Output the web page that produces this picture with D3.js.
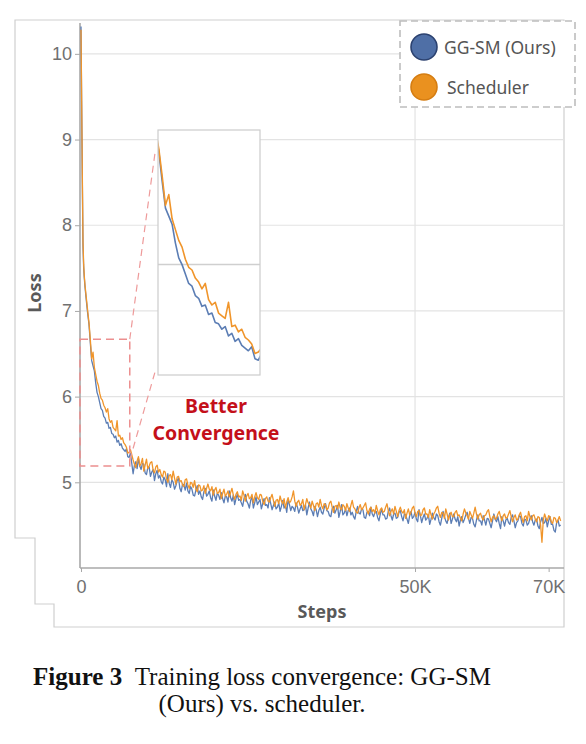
<!DOCTYPE html>
<html lang="en">
<head>
<meta charset="utf-8">
<title>Training loss convergence</title>
<script src="https://cdn.jsdelivr.net/npm/d3@7"></script>
<style>
  body { margin: 0; background: #fff; }
  svg { display: block; }
</style>
</head>
<body>
<svg width="586" height="744"></svg>
<script>
// ---- data ----
var seriesNames = ["GG-SM (Ours)", "Scheduler"];

// logged steps: dense at the start, then every 200 steps
var earlySteps = [0, 100, 200, 300, 400, 500,
  600, 800, 1000, 1200, 1400, 1600, 1800, 2000, 2200, 2400, 2600, 2800, 3000, 3200, 3400,
  3600, 3800, 4000, 4200, 4400, 4600, 4800, 5000, 5200, 5400, 5600, 5800, 6000, 6200,
  6400, 6600, 6800, 7000, 7200, 7400];
var lateSteps = d3.range(7800, 72000, 200);
var steps = earlySteps.concat(lateSteps);

var earlyOurs = [
  10.32, 9.40, 8.50, 7.75, 7.50, 7.38,
  7.28, 7.12, 6.97, 6.84, 6.62, 6.42, 6.36, 6.30, 6.16, 6.05, 6.00, 5.93, 5.86, 5.84, 5.77,
  5.75, 5.69, 5.70, 5.63, 5.64, 5.57, 5.56, 5.52, 5.54, 5.47, 5.49, 5.43, 5.45, 5.40,
  5.38, 5.36, 5.39, 5.30, 5.29, 5.34];

var lateOurs = [
  5.10, 5.20, 5.24, 5.16, 5.28, 5.19, 5.15, 5.22, 5.21, 5.11, 5.09, 5.17, 5.18, 5.07, 5.12, 5.15, 5.02, 5.10, 5.14, 5.05,
  5.08, 5.01, 4.98, 5.06, 5.03, 4.95, 5.10, 4.99, 4.94, 5.03, 5.00, 4.92, 4.96, 5.02, 5.05, 4.93, 4.89, 4.98, 4.97, 4.91,
  4.99, 4.90, 4.87, 4.95, 4.92, 4.85, 4.84, 4.91, 4.96, 4.86, 4.90, 4.83, 4.80, 4.89, 4.93, 4.84, 4.86, 4.90, 4.82, 4.78,
  4.91, 4.84, 4.79, 4.87, 4.85, 4.80, 4.88, 4.81, 4.76, 4.84, 4.83, 4.77, 4.90, 4.82, 4.78, 4.85, 4.74, 4.81, 4.86, 4.79,
  4.80, 4.76, 4.72, 4.81, 4.86, 4.78, 4.75, 4.70, 4.79, 4.83, 4.70, 4.76, 4.83, 4.74, 4.77, 4.80, 4.69, 4.75, 4.81, 4.73,
  4.74, 4.70, 4.82, 4.75, 4.68, 4.73, 4.77, 4.69, 4.71, 4.76, 4.66, 4.72, 4.79, 4.70, 4.73, 4.65, 4.80, 4.74, 4.67, 4.72,
  4.70, 4.66, 4.76, 4.71, 4.64, 4.69, 4.73, 4.67, 4.68, 4.74, 4.62, 4.70, 4.77, 4.69, 4.66, 4.61, 4.72, 4.68, 4.60, 4.67,
  4.71, 4.65, 4.63, 4.70, 4.75, 4.67, 4.66, 4.61, 4.60, 4.69, 4.72, 4.64, 4.68, 4.73, 4.59, 4.66, 4.74, 4.62, 4.64, 4.69,
  4.61, 4.67, 4.70, 4.62, 4.65, 4.60, 4.57, 4.66, 4.72, 4.64, 4.63, 4.69, 4.68, 4.59, 4.58, 4.65, 4.66, 4.61, 4.71, 4.63,
  4.60, 4.65, 4.66, 4.59, 4.55, 4.63, 4.69, 4.62, 4.62, 4.57, 4.58, 4.66, 4.70, 4.61, 4.56, 4.63, 4.64, 4.58, 4.59, 4.65,
  4.67, 4.60, 4.55, 4.63, 4.62, 4.57, 4.52, 4.61, 4.66, 4.58, 4.60, 4.65, 4.57, 4.54, 4.68, 4.61, 4.53, 4.59, 4.63, 4.56,
  4.58, 4.62, 4.51, 4.57, 4.64, 4.59, 4.56, 4.63, 4.61, 4.54, 4.50, 4.58, 4.66, 4.60, 4.55, 4.52, 4.59, 4.64, 4.52, 4.57,
  4.63, 4.57, 4.54, 4.60, 4.49, 4.56, 4.60, 4.53, 4.57, 4.62, 4.65, 4.58, 4.52, 4.59, 4.58, 4.51, 4.48, 4.56, 4.62, 4.55,
  4.55, 4.50, 4.61, 4.56, 4.50, 4.58, 4.57, 4.52, 4.47, 4.55, 4.63, 4.57, 4.54, 4.60, 4.52, 4.46, 4.60, 4.55, 4.49, 4.56,
  4.58, 4.53, 4.51, 4.59, 4.62, 4.55, 4.47, 4.53, 4.55, 4.61, 4.60, 4.52, 4.49, 4.57, 4.56, 4.50, 4.52, 4.58, 4.61, 4.54,
  4.50, 4.56, 4.57, 4.49, 4.46, 4.54, 4.59, 4.52, 4.53, 4.58, 4.48, 4.55, 4.60, 4.51, 4.51, 4.44, 4.42, 4.53, 4.56, 4.49,
  4.50];

var earlyScheduler = [
  10.28, 9.45, 8.58, 7.80, 7.54, 7.40,
  7.30, 7.15, 7.00, 6.86, 6.66, 6.44, 6.52, 6.34, 6.26, 6.18, 6.13, 6.04, 5.98, 5.96, 5.90,
  5.87, 5.82, 5.86, 5.74, 5.70, 5.72, 5.64, 5.62, 5.60, 5.72, 5.54, 5.55, 5.50, 5.52,
  5.46, 5.44, 5.41, 5.34, 5.35, 5.38];

var lateScheduler = [
  5.26, 5.21, 5.17, 5.25, 5.30, 5.19, 5.22, 5.28, 5.13, 5.20, 5.27, 5.16, 5.19, 5.23, 5.24, 5.14, 5.11, 5.18, 5.20, 5.12,
  5.15, 5.09, 5.06, 5.13, 5.12, 5.04, 5.00, 5.08, 5.09, 5.03, 5.13, 5.05, 4.98, 5.06, 5.07, 5.01, 5.02, 4.97, 4.95, 5.03,
  5.04, 4.97, 4.93, 5.00, 4.99, 4.94, 5.02, 4.92, 4.89, 4.97, 4.96, 4.90, 4.91, 4.96, 4.87, 4.93, 4.98, 4.92, 4.90, 4.95,
  4.85, 4.91, 4.94, 4.87, 4.88, 4.92, 4.81, 4.87, 4.92, 4.84, 4.86, 4.90, 4.83, 4.88, 4.93, 4.85, 4.80, 4.86, 4.89, 4.83,
  4.84, 4.79, 4.90, 4.85, 4.78, 4.84, 4.87, 4.81, 4.82, 4.86, 4.76, 4.83, 4.88, 4.82, 4.80, 4.86, 4.85, 4.78, 4.74, 4.81,
  4.83, 4.78, 4.77, 4.82, 4.86, 4.79, 4.72, 4.79, 4.80, 4.75, 4.84, 4.78, 4.75, 4.81, 4.70, 4.77, 4.82, 4.76, 4.78, 4.83,
  4.90, 4.78, 4.72, 4.77, 4.79, 4.73, 4.75, 4.80, 4.68, 4.74, 4.81, 4.76, 4.74, 4.70, 4.78, 4.73, 4.67, 4.75, 4.76, 4.71,
  4.80, 4.73, 4.69, 4.75, 4.74, 4.68, 4.70, 4.76, 4.78, 4.71, 4.65, 4.72, 4.73, 4.69, 4.77, 4.70, 4.68, 4.74, 4.72, 4.67,
  4.75, 4.70, 4.66, 4.73, 4.79, 4.71, 4.69, 4.65, 4.64, 4.70, 4.74, 4.68, 4.70, 4.73, 4.76, 4.67, 4.63, 4.69, 4.71, 4.66,
  4.68, 4.64, 4.73, 4.67, 4.62, 4.68, 4.70, 4.65, 4.66, 4.71, 4.75, 4.67, 4.61, 4.66, 4.69, 4.63, 4.72, 4.66, 4.60, 4.67,
  4.71, 4.66, 4.64, 4.68, 4.58, 4.64, 4.69, 4.62, 4.65, 4.70, 4.72, 4.64, 4.60, 4.66, 4.67, 4.61, 4.62, 4.68, 4.70, 4.63,
  4.63, 4.59, 4.68, 4.62, 4.57, 4.63, 4.66, 4.70, 4.72, 4.64, 4.59, 4.65, 4.64, 4.58, 4.69, 4.63, 4.56, 4.62, 4.65, 4.60,
  4.60, 4.65, 4.67, 4.61, 4.62, 4.58, 4.55, 4.63, 4.69, 4.64, 4.61, 4.57, 4.66, 4.62, 4.58, 4.64, 4.71, 4.63, 4.57, 4.62,
  4.64, 4.59, 4.56, 4.61, 4.62, 4.66, 4.68, 4.60, 4.54, 4.59, 4.61, 4.57, 4.58, 4.63, 4.66, 4.60, 4.55, 4.61, 4.63, 4.58,
  4.59, 4.63, 4.67, 4.60, 4.54, 4.59, 4.62, 4.56, 4.57, 4.62, 4.65, 4.58, 4.53, 4.60, 4.61, 4.55, 4.66, 4.60, 4.56, 4.61,
  4.62, 4.57, 4.54, 4.60, 4.59, 4.50, 4.30, 4.56, 4.63, 4.58, 4.55, 4.61, 4.60, 4.54, 4.52, 4.59, 4.58, 4.53, 4.56, 4.60,
  4.55];

var lossOurs = earlyOurs.concat(lateOurs);
var lossScheduler = earlyScheduler.concat(lateScheduler);

var yTicks = [5, 6, 7, 8, 9, 10];
var xTicks = [0, 50000, 70000];
var xTickLabels = ["0", "50K", "70K"];

// region that is blown up in the inset
var zoomStepRange = [0, 7300];
var zoomLossRange = [5.19, 6.67];
var insetStepRange = [1150, 7300];
var insetLossRange = [5.18, 7.0];
var insetGridValue = 6;

var colours = ["#5b7db4", "#f0952b"];

// ---- drawing ----
var svg = d3.select("svg");

var x = d3.scaleLinear().domain([0, 72300]).range([81, 564]);
var y = d3.scaleLinear().domain([4, 10.36]).range([568, 23]);

// screenshot frame with stepped left edge
svg.append("path")
  .attr("d", "M15,20 H564 V627 H54 V604 H35 V538 H15 Z")
  .attr("fill", "none")
  .attr("stroke", "#cfcfcf")
  .attr("stroke-width", 1.2);

// grid
svg.append("g").selectAll("line")
  .data(yTicks)
  .enter().append("line")
    .attr("x1", 80).attr("x2", 564)
    .attr("y1", function (d) { return y(d); })
    .attr("y2", function (d) { return y(d); })
    .attr("stroke", "#e3e3e3").attr("stroke-width", 1.2);

svg.append("line")
  .attr("x1", x(50000)).attr("x2", x(50000))
  .attr("y1", 21).attr("y2", 568)
  .attr("stroke", "#e3e3e3").attr("stroke-width", 1.2);

// axes
var axeY = d3.axisLeft(y).tickValues(yTicks).tickSize(5).tickPadding(3).tickFormat(d3.format("d"));
var gY = svg.append("g").attr("transform", "translate(80,0)").call(axeY);
gY.select(".domain").attr("d", "M0,23V568");

var axeX = d3.axisBottom(x).tickValues(xTicks).tickSize(4).tickPadding(8)
  .tickFormat(function (d, i) { return xTickLabels[i]; });
var gX = svg.append("g").attr("transform", "translate(0,568)").call(axeX);
gX.select(".domain").attr("d", "M80,0H564");

svg.selectAll(".domain").attr("stroke", "#a8a8a8").attr("stroke-width", 1.6);
svg.selectAll(".tick line").attr("stroke", "#a8a8a8");
svg.selectAll(".tick text")
  .attr("font-family", "Liberation Sans, Arial, sans-serif")
  .attr("font-size", 18)
  .attr("fill", "#707070");

// axis titles
svg.append("text")
  .attr("transform", "translate(34,293) rotate(-90)")
  .attr("text-anchor", "middle")
  .attr("dominant-baseline", "central")
  .attr("font-family", "Noto Sans, sans-serif")
  .attr("font-weight", "bold")
  .attr("font-size", 18)
  .attr("fill", "#595959")
  .text("Loss");

svg.append("text")
  .attr("x", 322).attr("y", 618)
  .attr("text-anchor", "middle")
  .attr("font-family", "Noto Sans, sans-serif")
  .attr("font-weight", "bold")
  .attr("font-size", 18)
  .attr("fill", "#595959")
  .text("Steps");

// curves
var series = [lossOurs, lossScheduler];

var ligne = d3.line()
  .x(function (d, i) { return x(steps[i]); })
  .y(function (d) { return y(d); });

series.forEach(function (s, k) {
  svg.append("path")
    .datum(s)
    .attr("d", ligne)
    .attr("fill", "none")
    .attr("stroke", colours[k])
    .attr("stroke-width", 1.3)
    .attr("stroke-linejoin", "round");
});

// zoom box on the main plot
var bx0 = x(zoomStepRange[0]) - 1, bx1 = x(zoomStepRange[1]);
var by0 = y(zoomLossRange[1]), by1 = y(zoomLossRange[0]);
svg.append("rect")
  .attr("x", bx0).attr("y", by0)
  .attr("width", bx1 - bx0).attr("height", by1 - by0)
  .attr("fill", "none")
  .attr("stroke", "#ec8f8f")
  .attr("stroke-width", 1.5)
  .attr("stroke-dasharray", "8,5");

// inset
var insetX = d3.scaleLinear().domain(insetStepRange).range([158, 260]);
var insetY = d3.scaleLinear().domain(insetLossRange).range([375, 130]);

svg.append("line")
  .attr("x1", bx1).attr("y1", by0)
  .attr("x2", 155).attr("y2", 153)
  .attr("stroke", "#ee9a9a").attr("stroke-width", 1.2).attr("stroke-dasharray", "7,5");
svg.append("line")
  .attr("x1", bx1).attr("y1", by1 - 6)
  .attr("x2", 155).attr("y2", 372)
  .attr("stroke", "#ee9a9a").attr("stroke-width", 1.2).attr("stroke-dasharray", "7,5");

svg.append("defs").append("clipPath").attr("id", "clipInset")
  .append("rect").attr("x", 158).attr("y", 130).attr("width", 102).attr("height", 245);

svg.append("rect")
  .attr("x", 158).attr("y", 130).attr("width", 102).attr("height", 245)
  .attr("fill", "#fff");

svg.append("line")
  .attr("x1", 158).attr("x2", 260)
  .attr("y1", insetY(insetGridValue)).attr("y2", insetY(insetGridValue))
  .attr("stroke", "#cfcfcf").attr("stroke-width", 1.5);

var ligneInset = d3.line()
  .x(function (d, i) { return insetX(steps[i]); })
  .y(function (d) { return insetY(d); });

var gInset = svg.append("g").attr("clip-path", "url(#clipInset)");
series.forEach(function (s, k) {
  gInset.append("path")
    .datum(s.slice(0, earlySteps.length + 1))
    .attr("d", ligneInset)
    .attr("fill", "none")
    .attr("stroke", colours[k])
    .attr("stroke-width", 1.6)
    .attr("stroke-linejoin", "round");
});

svg.append("rect")
  .attr("x", 158).attr("y", 130).attr("width", 102).attr("height", 245)
  .attr("fill", "none")
  .attr("stroke", "#cccccc").attr("stroke-width", 1.2);

// annotation
var note = svg.append("text")
  .attr("text-anchor", "middle")
  .attr("font-family", "Noto Sans, sans-serif")
  .attr("font-weight", "bold")
  .attr("font-size", 19.5)
  .attr("fill", "#c4101a");
note.append("tspan").attr("x", 216).attr("y", 413).text("Better");
note.append("tspan").attr("x", 216).attr("y", 440).text("Convergence");

// legend
var legende = svg.append("g");
legende.append("rect")
  .attr("x", 400).attr("y", 21).attr("width", 175).attr("height", 86)
  .attr("fill", "#fff")
  .attr("stroke", "#bdbdbd").attr("stroke-width", 1.6)
  .attr("stroke-dasharray", "7,4");

var legendFill = ["#4f6fa6", "#ea911f"];
var legendStroke = ["#2c4270", "#d57d12"];
seriesNames.forEach(function (nom, i) {
  legende.append("circle")
    .attr("cx", 424).attr("cy", 47 + i * 40).attr("r", 13)
    .attr("fill", legendFill[i])
    .attr("stroke", legendStroke[i]).attr("stroke-width", 1.6);
  legende.append("text")
    .attr("x", i === 0 ? 444 : 447).attr("y", 47 + i * 40)
    .attr("dominant-baseline", "central")
    .attr("font-family", "Noto Sans, sans-serif")
    .attr("font-size", 17.5)
    .attr("fill", "#555")
    .text(nom);
});

// caption
var caption = svg.append("text")
  .attr("text-anchor", "middle")
  .attr("font-family", "Liberation Serif, Times New Roman, serif")
  .attr("font-size", 25)
  .attr("fill", "#111");
var l1 = caption.append("tspan").attr("x", 262).attr("y", 685);
l1.append("tspan").attr("font-weight", "bold").text("Figure 3");
l1.append("tspan").text("\u00a0\u00a0Training loss convergence: GG-SM");
caption.append("tspan").attr("x", 262).attr("y", 712).text("(Ours) vs. scheduler.");
</script>
</body>
</html>
